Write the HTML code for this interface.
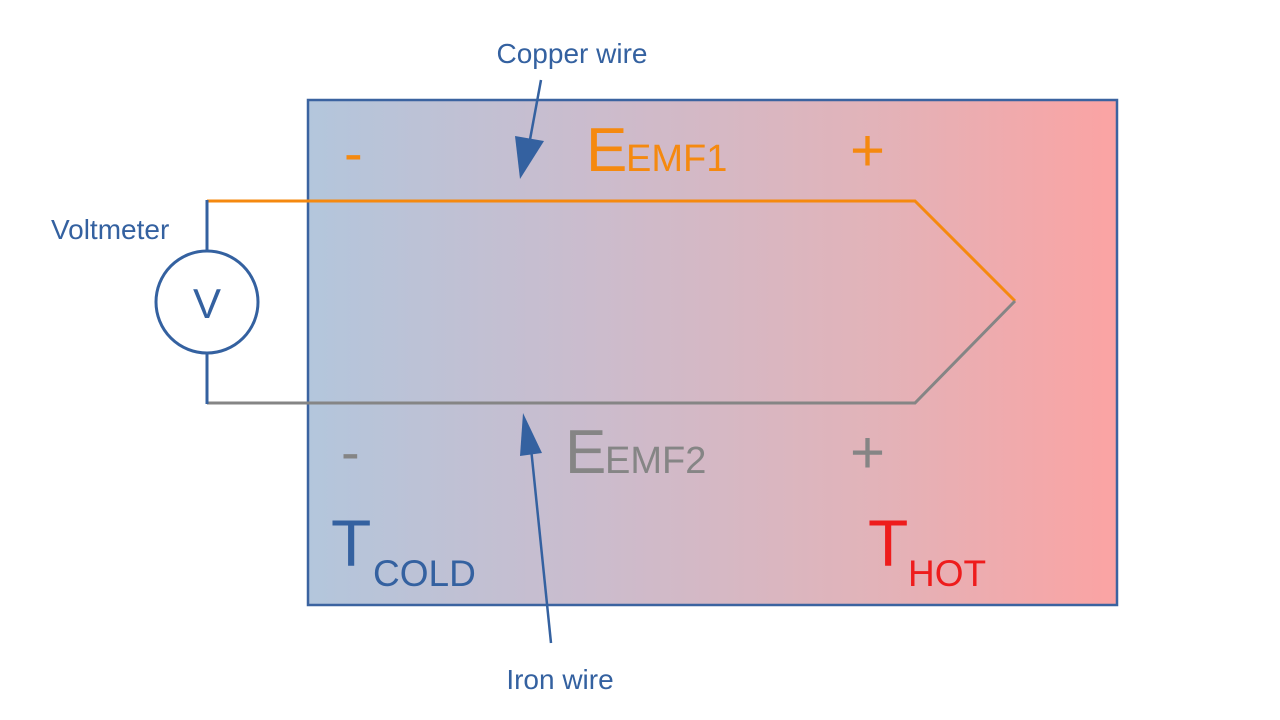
<!DOCTYPE html>
<html><head><meta charset="utf-8"><style>
html,body{margin:0;padding:0;background:#fff;}
svg{display:block;font-family:"Liberation Sans",sans-serif;}
</style></head><body>
<svg width="1280" height="720" viewBox="0 0 1280 720" xmlns="http://www.w3.org/2000/svg">
<defs>
<linearGradient id="g" x1="0" y1="0" x2="1" y2="0">
<stop offset="0" stop-color="#b3c6dc"/>
<stop offset="0.35" stop-color="#cbbccd"/>
<stop offset="0.7" stop-color="#e2b3b9"/>
<stop offset="1" stop-color="#fba3a3"/>
</linearGradient>
</defs>
<rect x="308" y="100" width="809" height="505" fill="url(#g)" stroke="#3b63a0" stroke-width="2.5"/>
<polyline points="207,201 915,201 1015,301" fill="none" stroke="#f5890f" stroke-width="3"/>
<polyline points="207,403 915,403 1015,301" fill="none" stroke="#858585" stroke-width="3"/>
<line x1="207" y1="200" x2="207" y2="251" stroke="#3461a0" stroke-width="3"/>
<line x1="207" y1="353" x2="207" y2="404" stroke="#3461a0" stroke-width="3"/>
<circle cx="207" cy="302" r="51" fill="#fff" stroke="#3461a0" stroke-width="3"/>
<text x="207" y="318" font-size="42" fill="#3461a0" text-anchor="middle">V</text>
<line x1="541" y1="80" x2="529" y2="145" stroke="#3461a0" stroke-width="2.5"/>
<polygon points="515,136 544,141 520,179" fill="#3461a0"/>
<line x1="551" y1="643" x2="531" y2="448" stroke="#3461a0" stroke-width="2.5"/>
<polygon points="523,413 520,456 542,453" fill="#3461a0"/>
<text x="572" y="63" font-size="28" fill="#3461a0" text-anchor="middle">Copper wire</text>
<text x="51" y="239" font-size="28" fill="#3461a0">Voltmeter</text>
<text x="560" y="689" font-size="28" fill="#3461a0" text-anchor="middle">Iron wire</text>
<text x="344" y="172" font-size="56" fill="#f5890f">-</text>
<text x="586" y="171" font-size="62" fill="#f5890f">E</text>
<text x="626" y="171" font-size="38" fill="#f5890f">EMF1</text>
<text x="850" y="171" font-size="60" fill="#f5890f">+</text>
<text x="341" y="471" font-size="56" fill="#858585">-</text>
<text x="565" y="473" font-size="62" fill="#858585">E</text>
<text x="605" y="473" font-size="38" fill="#858585">EMF2</text>
<text x="850" y="473" font-size="60" fill="#858585">+</text>
<text x="331" y="566" font-size="66" fill="#3461a0">T</text>
<text x="373" y="586" font-size="37" fill="#3461a0">COLD</text>
<text x="868" y="566" font-size="66" fill="#ee1c1c">T</text>
<text x="908" y="586" font-size="37" fill="#ee1c1c">HOT</text>
</svg>
</body></html>
